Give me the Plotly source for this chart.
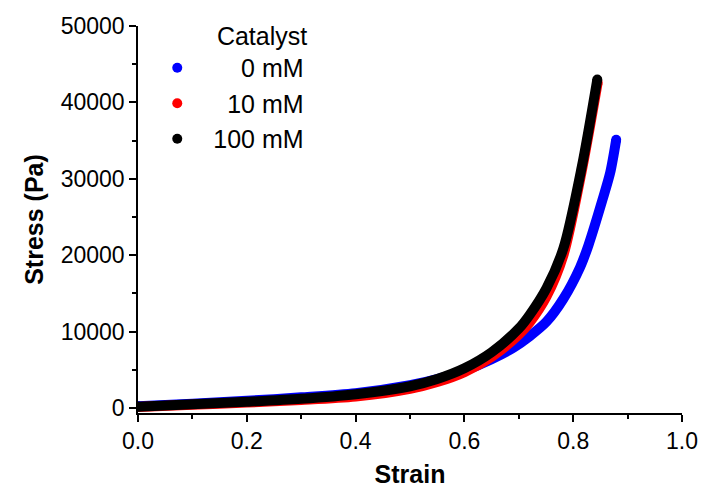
import plotly.graph_objects as go

# Strain / stress readings for each catalyst concentration
strain_0mM = [0.0, 0.1, 0.2, 0.3, 0.4, 0.5, 0.55, 0.6, 0.65, 0.69, 0.72, 0.751, 0.782, 0.8125, 0.828, 0.854, 0.868, 0.879]
stress_0mM = [230, 560, 950, 1400, 1950, 3000, 3800, 4900, 6400, 7900, 9400, 11300, 14300, 18400, 21300, 27300, 30800, 35100]

strain_10mM = [0.0, 0.1, 0.2, 0.3, 0.4, 0.5, 0.55, 0.6, 0.65, 0.7, 0.72, 0.751, 0.782, 0.8156, 0.845]
stress_10mM = [130, 420, 720, 1050, 1500, 2500, 3400, 4700, 6700, 9600, 11200, 14600, 20000, 31000, 42600]

strain_100mM = [0.0, 0.1, 0.2, 0.3, 0.4, 0.5, 0.55, 0.6, 0.65, 0.7, 0.72, 0.751, 0.782, 0.8156, 0.8443]
stress_100mM = [170, 500, 820, 1200, 1800, 2850, 3800, 5200, 7300, 10400, 12200, 15700, 20900, 31500, 43000]

series_names = ["\u2007\u20070 mM", "\u200710 mM", "100 mM"]
series_colors = ["#0000FF", "#FF0000", "#000000"]
series_x = [strain_0mM, strain_10mM, strain_100mM]
series_y = [stress_0mM, stress_10mM, stress_100mM]

FONT = "Liberation Sans, Arial, sans-serif"

fig = go.Figure()
for name, color, xs, ys in zip(series_names, series_colors, series_x, series_y):
    fig.add_trace(go.Scatter(
        x=xs, y=ys, mode="lines", line=dict(color=color, width=10, shape="spline", smoothing=0.8),
        legendgroup=name, showlegend=False, hoverinfo="skip"))
    fig.add_trace(go.Scatter(
        x=[xs[0], xs[-1]], y=[ys[0], ys[-1]], mode="markers", marker=dict(color=color, size=10),
        legendgroup=name, name=name, showlegend=True))

fig.update_layout(
    width=703, height=488,
    margin=dict(l=138, r=21, t=22, b=75),
    paper_bgcolor="white", plot_bgcolor="white",
    font=dict(family=FONT, size=23, color="black"),
    legend=dict(
        x=0.006, y=1.035, xanchor="left", yanchor="top",
        bgcolor="rgba(0,0,0,0)",
        title=dict(text="Catalyst", side="top right", font=dict(size=25)),
        font=dict(size=25),
        tracegroupgap=0, itemwidth=62,
    ),
    xaxis=dict(
        range=[0, 1.0], tickvals=[0, 0.2, 0.4, 0.6, 0.8, 1.0],
        ticktext=["0.0", "0.2", "0.4", "0.6", "0.8", "1.0"],
        showgrid=False, zeroline=False, automargin=False,
        showline=True, linecolor="black", linewidth=1.5,
        ticks="outside", ticklen=7, tickwidth=1.5, tickcolor="black",
        minor=dict(dtick=0.1, ticks="outside", ticklen=4, tickwidth=1.5, tickcolor="black", showgrid=False),
        title=dict(text="<b>Strain</b>", font=dict(size=25), standoff=18),
    ),
    yaxis=dict(
        range=[-650, 50000], tickvals=[0, 10000, 20000, 30000, 40000, 50000],
        ticktext=["0", "10000", "20000", "30000", "40000", "50000"],
        showgrid=False, zeroline=False, automargin=False,
        showline=True, linecolor="black", linewidth=1.5,
        ticks="outside", ticklen=7, tickwidth=1.5, tickcolor="black",
        minor=dict(dtick=5000, ticks="outside", ticklen=4, tickwidth=1.5, tickcolor="black", showgrid=False),
        title=dict(text="<b>Stress (Pa)</b>", font=dict(size=25), standoff=10),
    ),
)

fig.write_html("out.html")
